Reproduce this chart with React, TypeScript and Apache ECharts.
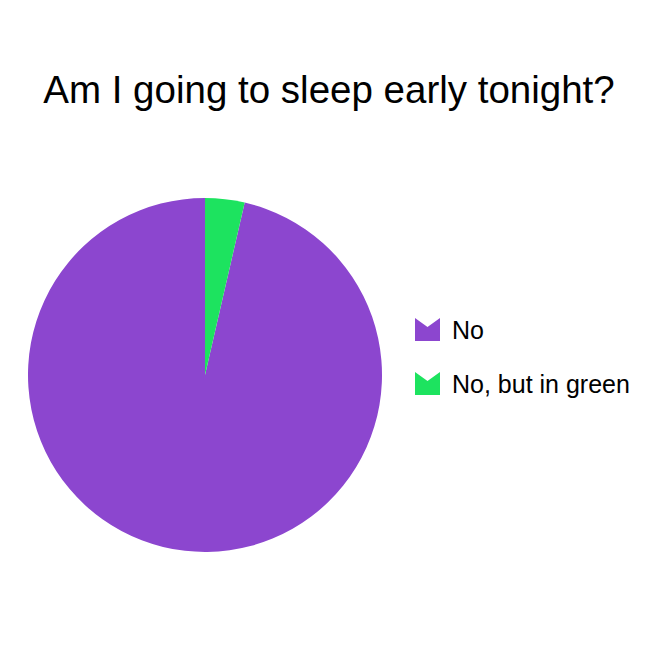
import React, { useEffect, useRef } from "react";
import * as echarts from "echarts";

const titleText = "Am I going to sleep early tonight?";
const categories = ["No", "No, but in green"];
const values = [96.4, 3.6];
const colors = ["#8c46cf", "#1de35f"];

export default function App() {
  const ref = useRef<HTMLDivElement>(null);
  useEffect(() => {
    if (!ref.current) return;
    const chart = echarts.init(ref.current, null, { renderer: "svg" });
    const total = values.reduce((a, b) => a + b, 0);
    const greenAngle = (values[1] / total) * 360;
    const icon = "path://M0,0 L12.5,9 L25,0 L25,23 L0,23 Z";
    chart.setOption({
      animation: false,
      backgroundColor: "#ffffff",
      title: {
        text: titleText,
        left: "center",
        top: 65,
        textStyle: {
          fontFamily: "Liberation Sans",
          fontSize: 38.5,
          fontWeight: "normal",
          color: "#000000",
        },
      },
      legend: {
        orient: "vertical",
        left: 415,
        top: 317,
        padding: 0,
        itemWidth: 25,
        itemHeight: 23,
        itemGap: 29,
        icon,
        data: categories,
        textStyle: {
          fontFamily: "Liberation Sans",
          fontSize: 25,
          color: "#000000",
          padding: [0, 0, 0, 7],
        },
      },
      series: [
        {
          type: "pie",
          center: [205, 375],
          radius: 177,
          startAngle: 90 - greenAngle,
          clockwise: true,
          label: { show: false },
          labelLine: { show: false },
          emphasis: { disabled: true },
          itemStyle: { borderWidth: 0 },
          data: categories.map((name, i) => ({
            name,
            value: values[i],
            itemStyle: { color: colors[i] },
          })),
        },
      ],
    });
    return () => chart.dispose();
  }, []);
  return (
    <div
      ref={ref}
      style={{ position: "fixed", left: 0, top: 0, width: 658, height: 660 }}
    />
  );
}
